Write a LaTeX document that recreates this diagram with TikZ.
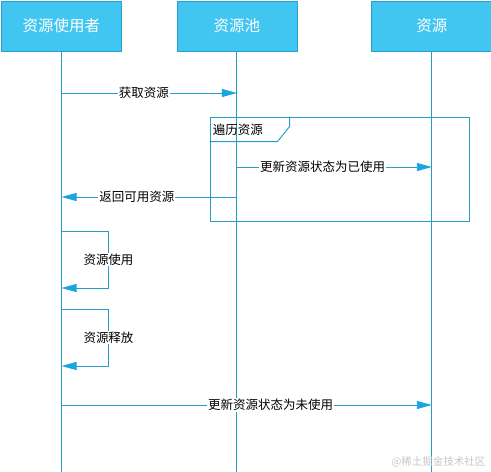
\documentclass[tikz,border=0pt]{standalone}
\usepackage{fontspec}
\setmainfont{Noto Sans CJK SC}
\usetikzlibrary{arrows.meta,positioning}
\definecolor{headfill}{RGB}{64,198,241}
\definecolor{headline}{RGB}{40,160,205}
\definecolor{lifeblue}{RGB}{38,158,196}
\definecolor{tipblue}{RGB}{24,165,226}
\tikzset{
  actor/.style={draw=headline, fill=headfill, text=white, minimum width=120pt, minimum height=50pt, inner sep=0pt, font=\fontsize{15.5}{18}\selectfont},
  life/.style={draw=lifeblue, line width=0.9pt},
  msg/.style={draw=lifeblue, line width=0.9pt, -{Triangle[length=15pt, width=8pt, color=tipblue]}},
  lbl/.style={fill=white, inner sep=1pt, font=\fontsize{12.5}{15}\selectfont},
  loopframe/.style={draw=lifeblue, line width=0.9pt, minimum width=259pt, minimum height=104pt, inner sep=0pt}
}

\begin{document}
\begin{tikzpicture}[x=1pt, y=-1pt]
  \useasboundingbox (0,0) rectangle (491,472);
  \node[actor] (user) at (61.5,26) {资源使用者};
  \node[actor, right=55pt of user] (pool) {资源池};
  \node[actor, right=74pt of pool, minimum width=121pt] (res) {资源};

  % lifelines
  \draw[life] (user.south) -- ++(0,421);
  \draw[life] (pool.south) -- ++(0,421);
  \draw[life] (res.south) -- ++(0,421);

  % loop frame
  \node[loopframe] (loopbox) at (339.5,169) {};
  \draw[life] (loopbox.north west) ++(0,25) -- ++(68,0) -- ++(12,-15) -- ++(0,-10);
  \node[anchor=west, inner sep=0pt, font=\fontsize{12.5}{15}\selectfont] (looplbl) at ([xshift=3pt, yshift=-13pt]loopbox.north west) {遍历资源};

  % points on the lifelines
  \coordinate (u1) at (user |- 0,93);
  \coordinate (p1) at (pool |- 0,93);
  \coordinate (p2) at (pool |- 0,167);
  \coordinate (r2) at (res |- 0,167);
  \coordinate (p3) at (pool |- 0,197);
  \coordinate (u3) at (user |- 0,197);
  \coordinate (u4) at (user |- 0,231);
  \coordinate (u5) at (user |- 0,288);
  \coordinate (u6) at (user |- 0,309);
  \coordinate (u7) at (user |- 0,366);
  \coordinate (u8) at (user |- 0,405);
  \coordinate (r8) at (res |- 0,405);

  \draw[msg] (u1) -- node[lbl, pos=0.47]{获取资源} (p1);
  \draw[msg] (p2) -- node[lbl, pos=0.44]{更新资源状态为已使用} (r2);
  \draw[msg] (p3) -- node[lbl, pos=0.57]{返回可用资源} (u3);
  \draw[msg] (u4) -- ++(47,0) -- node[lbl]{资源使用} ++(0,57) -- (u5);
  \draw[msg] (u6) -- ++(47,0) -- node[lbl]{资源释放} ++(0,57) -- (u7);
  \draw[msg] (u8) -- node[lbl, pos=0.565]{更新资源状态为未使用} (r8);

  \node[anchor=east, text=gray!45, font=\fontsize{10.5}{12}\selectfont] (mark) at (489,462) {@稀土掘金技术社区};
\end{tikzpicture}
\end{document}
